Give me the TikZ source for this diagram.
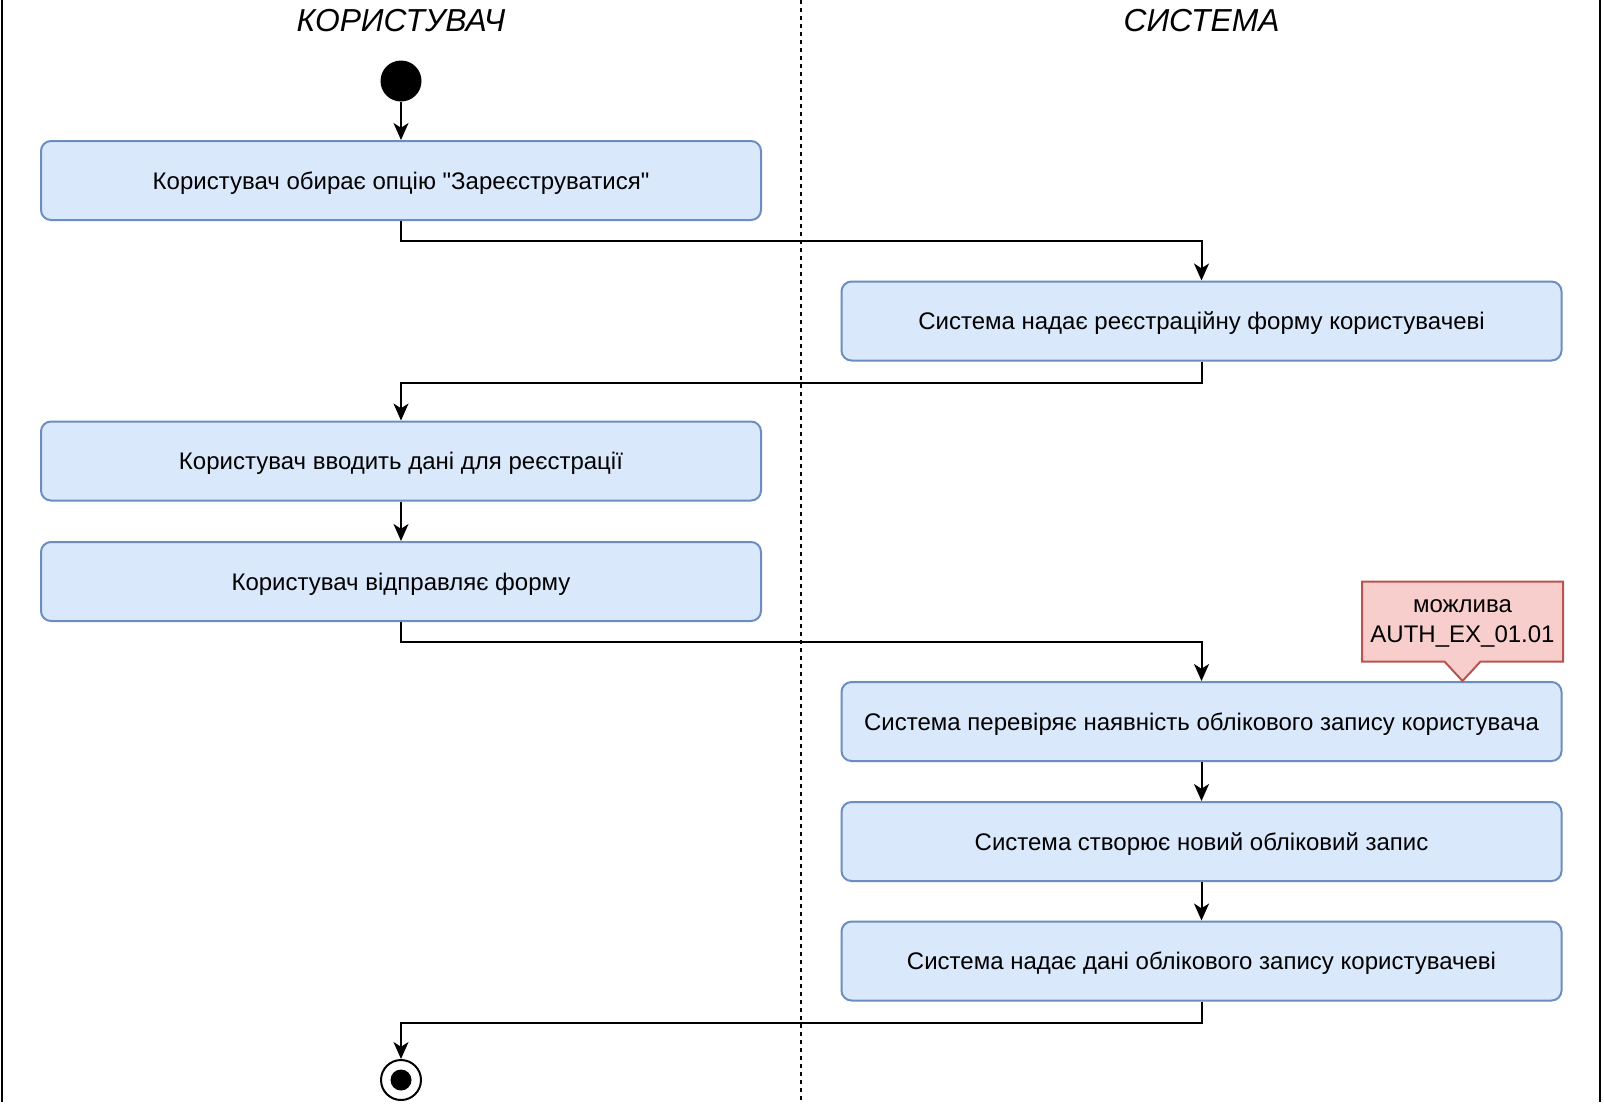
\documentclass[tikz,border=0pt]{standalone}
\usepackage{fontspec}
\newfontfamily\diafont{Liberation Sans}
\usetikzlibrary{arrows.meta,shapes.callouts}
\definecolor{actfill}{HTML}{DAE8FC}
\definecolor{actline}{HTML}{6C8EBF}
\definecolor{notefill}{HTML}{F8CECC}
\definecolor{noteline}{HTML}{B85450}

\begin{document}
\begin{tikzpicture}[x=0.5pt, y=-0.5pt,
    action/.style={draw=actline, fill=actfill, line width=1pt, rounded corners=5pt,
      minimum width=360pt, minimum height=39.5pt, inner sep=0pt, text depth=0pt,
      font=\diafont\fontsize{12}{14}\selectfont},
    flow/.style={line width=1pt, -{Stealth[length=8.5pt, width=7.5pt, inset=2.4pt]}},
    lane/.style={font=\diafont\itshape\fontsize{15.9}{18}\selectfont}]

    \useasboundingbox (0,0) rectangle (1604,1104);

    \draw[line width=1pt] (2,0) -- (2,1102); % left border
    \draw[line width=1pt] (1600,0) -- (1600,1102); % right border
    \draw[line width=1pt, dash pattern=on 2pt off 2pt]
    (800.5,0) -- (800.5,1102); % lane divider

    \node[lane] (user) at (401,21) {КОРИСТУВАЧ}; % left lane title
    \node[lane] (system) at (1201.5,21) {СИСТЕМА}; % right lane title

    \node[circle, fill, minimum size=20.5pt, inner sep=0pt] (start) at (401,81) {};

    \node[action] (choose) at (401,180.5) {Користувач обирає опцію "Зареєструватися"};
    \node[action] (form) at (1201.5,321) {Система надає реєстраційну форму користувачеві};
    \node[action] (input) at (401,461) {Користувач вводить дані для реєстрації};
    \node[action] (send) at (401,581.5) {Користувач відправляє форму};
    \node[action] (check) at (1201.5,721.5) {Система перевіряє наявність облікового запису користувача};
    \node[action] (create) at (1201.5,841.5) {Система створює новий обліковий запис};
    \node[action] (give) at (1201.5,961) {Система надає дані облікового запису користувачеві};

    \node[rectangle callout, draw=noteline, fill=notefill, line width=1pt,
      minimum width=100.5pt, minimum height=40pt, inner sep=0pt, align=center,
      callout absolute pointer={(1462.5,681)}, callout pointer width=18pt,
      text depth=0pt, font=\diafont\fontsize{12}{15}\selectfont]
    (note) at (1462.5,621.5) {можлива\\AUTH\_EX\_01.01}; % exception note

    \node[circle, draw, line width=1pt, fill=white, minimum size=20pt, inner sep=0pt]
    (stop) at (401,1080) {};
    \node[circle, fill, minimum size=10.5pt, inner sep=0pt] (stopdot) at (stop) {};

    \draw[flow] (start) -- (choose);
    \draw[flow] (choose.south) -- ++(0,20) -| (form.north);
    \draw[flow] (form.south) -- ++(0,21) -| (input.north);
    \draw[flow] (input) -- (send);
    \draw[flow] (send.south) -- ++(0,20) -| (check.north);
    \draw[flow] (check) -- (create);
    \draw[flow] (create) -- (give);
    \draw[flow] (give.south) -- ++(0,21) -| (stop.north);

\end{tikzpicture}
\end{document}
